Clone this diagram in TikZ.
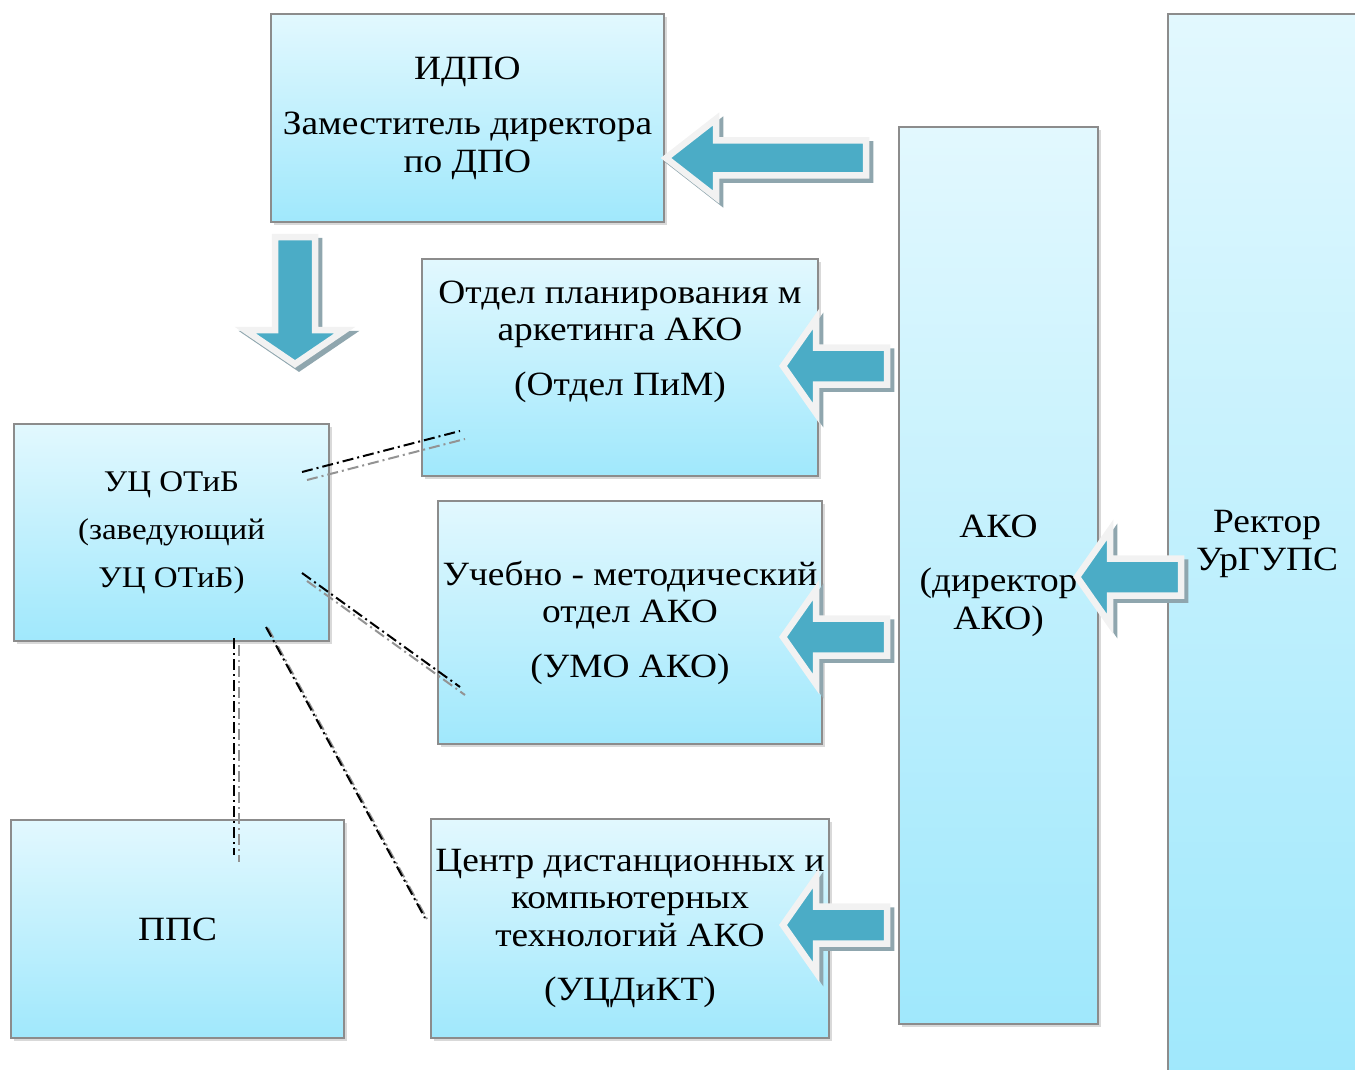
\documentclass[tikz,border=0pt]{standalone}
\usepackage{fontspec}
\setmainfont{Liberation Serif}[FakeStretch=1.1]
\usetikzlibrary{shadows}
\definecolor{boxtop}{HTML}{E2F8FE}
\definecolor{boxbot}{HTML}{A0E8FC}
\definecolor{boxline}{HTML}{8C8C8C}
\definecolor{arrowfill}{HTML}{4BACC6}
\definecolor{arrowrim}{HTML}{F2F2F2}
\definecolor{arrowshade}{HTML}{8FA6AE}
\tikzset{
  box/.style={rectangle, draw=boxline, line width=1.5pt, top color=boxtop, bottom color=boxbot,
    drop shadow={shadow xshift=3pt, shadow yshift=-3pt, opacity=0.3},
    align=center, inner sep=0pt, font=\fontsize{34}{37.5}\selectfont},
  txt/.style={align=center, inner sep=0pt, font=\fontsize{34}{37.5}\selectfont},
  dashdot/.style={line width=2pt, dash pattern=on 11pt off 4pt on 2pt off 4pt},
  dashshade/.style={dashdot, draw=gray!85},
  fatarrow/.style={fill=arrowfill, draw=arrowrim, line width=6.5pt, line join=miter},
  arrowshadow/.style={fill=arrowshade, draw=arrowshade, line width=6.5pt, line join=miter},
  pics/leftarrow/.style n args={5}{code={
    \path[arrowshadow, shift={(#5)}] (0,0) -- (#2,-#4) -- (#2,-#3) -- (#1,-#3) -- (#1,#3) -- (#2,#3) -- (#2,#4) -- cycle;
    \path[fatarrow] (0,0) -- (#2,-#4) -- (#2,-#3) -- (#1,-#3) -- (#1,#3) -- (#2,#3) -- (#2,#4) -- cycle;
  }}
}
\begin{document}
\begin{tikzpicture}[x=1pt,y=-1pt]
  \path[use as bounding box] (0,0) rectangle (1355,1070);
  \clip (0,0) rectangle (1355,1070);
  % boxes
  \node[box, minimum width=393pt, minimum height=208pt] (idpo) at (467.5,118)
    {ИДПО\\[18pt]Заместитель директора\\по ДПО};
  \node[box, minimum width=396pt, minimum height=217pt] (pim) at (620,367.5) {};
  \node[txt] (pimtext) at ([yshift=26pt]pim.center)
    {Отдел планирования м\\аркетинга АКО\\[17pt](Отдел ПиМ)};
  \node[box, minimum width=384pt, minimum height=243pt] (umo) at (630,622.5)
    {Учебно - методический\\отдел АКО\\[17pt](УМО АКО)};
  \node[box, minimum width=398pt, minimum height=219pt] (cdkt) at (630,928.5)
    {Центр дистанционных и\\компьютерных\\технологий АКО\\[17pt](УЦДиКТ)};
  \node[box, minimum width=315pt, minimum height=217pt, font=\fontsize{30}{37.5}\selectfont] (uc) at (171.5,532.5)
    {УЦ ОТиБ\\[10.5pt](заведующий\\[10.5pt]УЦ ОТиБ)};
  \node[box, minimum width=333pt, minimum height=218pt] (pps) at (177.5,929) {ППС};
  \node[box, minimum width=199pt, minimum height=897pt] (ako) at (998.5,575.5)
    {АКО\\[17pt](директор\\АКО)};
  \node[box, minimum width=198pt, minimum height=1060pt] (rector) at (1267,544)
    {Ректор\\УрГУПС};
  % dash-dot links
  \coordinate (l1a) at (302,472); \coordinate (l1b) at (460,431);
  \coordinate (l2a) at (302,573); \coordinate (l2b) at (460,687);
  \coordinate (l3a) at (234,638); \coordinate (l3b) at (234,855);
  \coordinate (l4a) at (266,627); \coordinate (l4b) at (425,918);
  \draw[dashshade] ([shift={(5,8)}]l1a) -- ([shift={(5,8)}]l1b);
  \draw[dashshade] ([shift={(5,8)}]l2a) -- ([shift={(5,8)}]l2b);
  \draw[dashshade] ([shift={(5,7)}]l3a) -- ([shift={(5,7)}]l3b);
  \draw[dashshade] ([shift={(2,1)}]l4a) -- ([shift={(2,1)}]l4b);
  \draw[dashdot] (l1a) -- (l1b);
  \draw[dashdot] (l2a) -- (l2b);
  \draw[dashdot] (l3a) -- (l3b);
  \draw[dashdot] (l4a) -- (l4b);
  % block arrows
  \pic at (666,158) {leftarrow={200}{50}{17.5}{39}{4,4}};
  \pic at (783,366) {leftarrow={104}{33}{18.5}{47}{4,4}};
  \pic at (783,637) {leftarrow={104}{33}{18.5}{47}{4,4}};
  \pic at (783,925) {leftarrow={104}{33}{18.5}{47}{4,4}};
  \pic at (1077,577) {leftarrow={104}{33}{18.5}{47}{4,4}};
  \pic[rotate=90] at (295,364) {leftarrow={127}{34}{20}{50}{-4,4}};
\end{tikzpicture}
\end{document}
